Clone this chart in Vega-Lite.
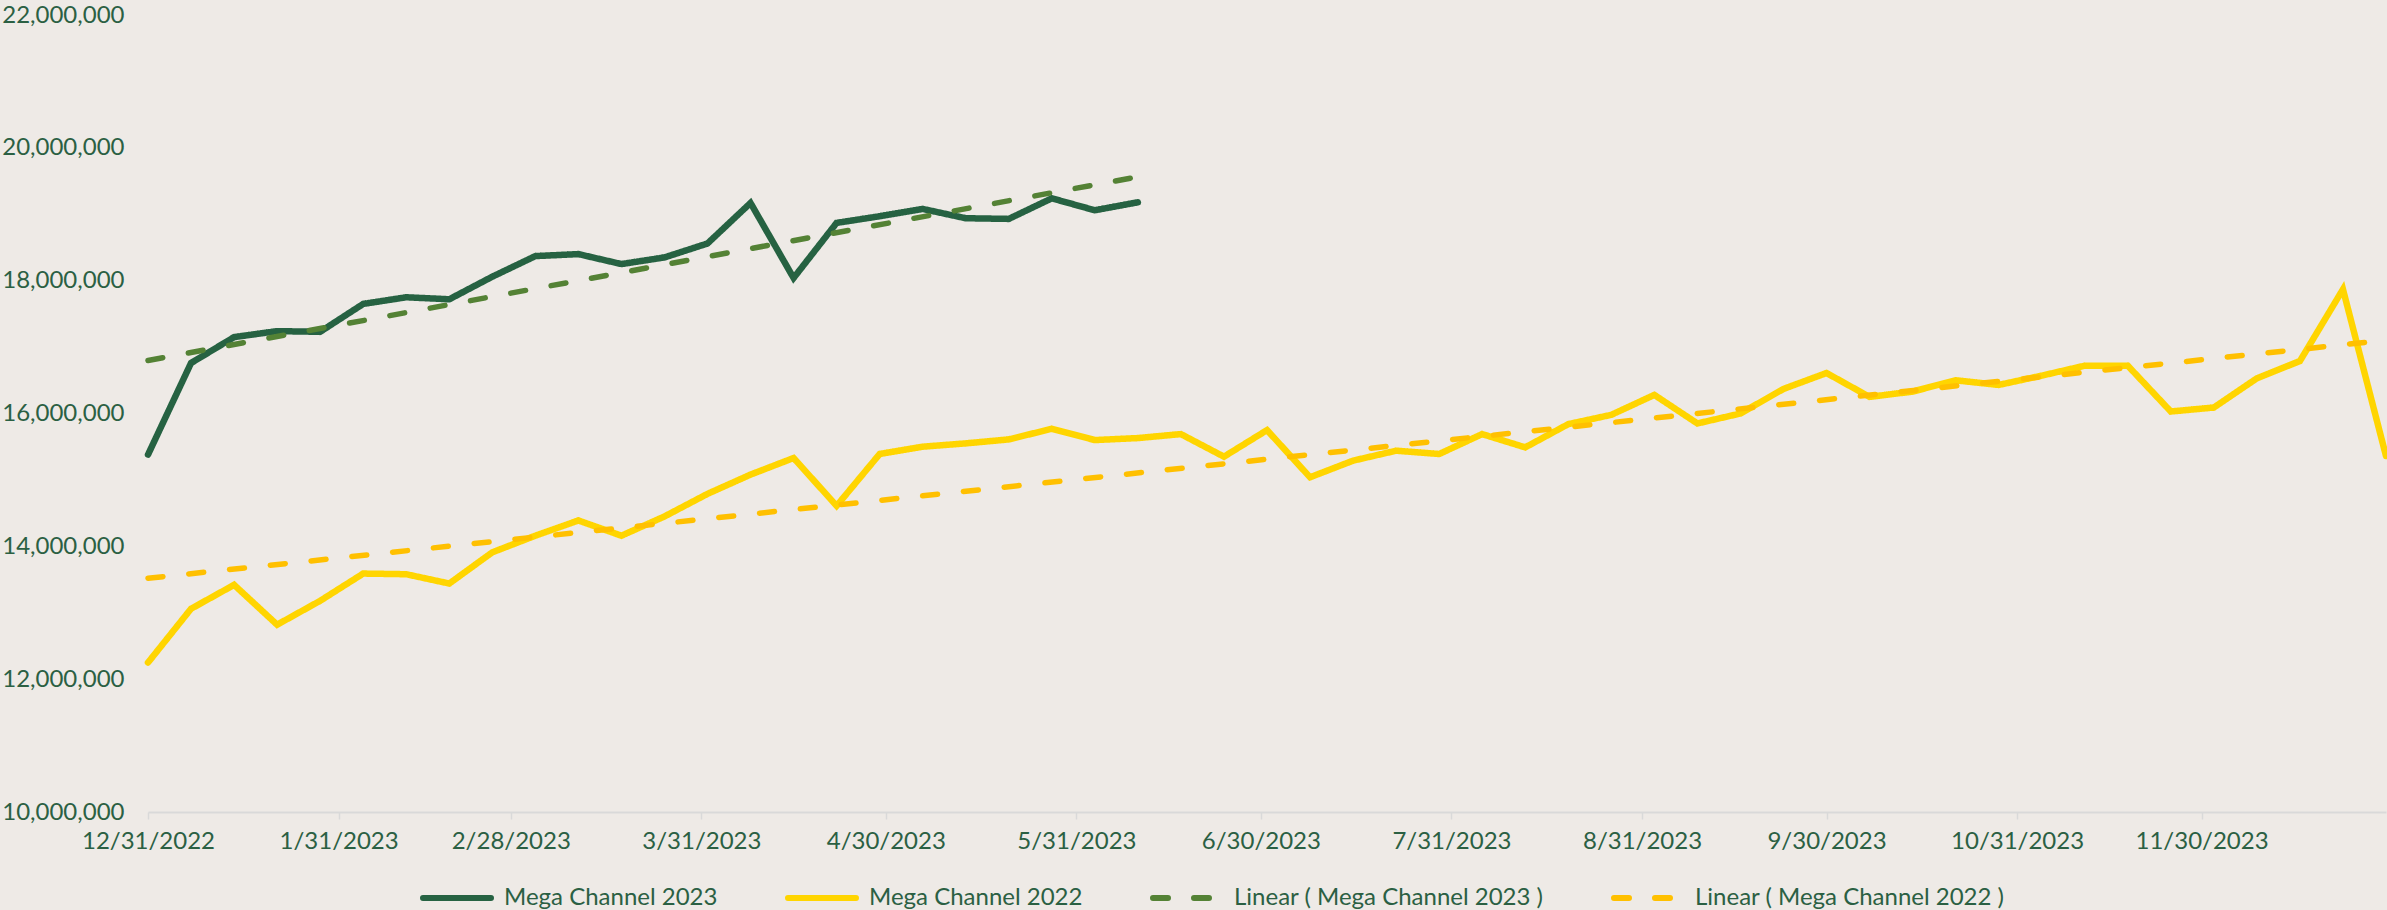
{
  "$schema": "https://vega.github.io/schema/vega-lite/v6.json",
  "autosize": {"type": "none"},
  "width": 2238,
  "height": 797,
  "padding": {"left": 148, "top": 15, "right": 1, "bottom": 98},
  "background": "#EEEAE6",
  "config": {
    "view": {"stroke": null},
    "font": "Lato"
  },
  "data": {
    "format": {"parse": {"date": "date"}},
    "values": [
      {"date": "2022/12/31", "series": "Mega Channel 2023", "value": 15380000},
      {"date": "2023/01/07", "series": "Mega Channel 2023", "value": 16760000},
      {"date": "2023/01/14", "series": "Mega Channel 2023", "value": 17150000},
      {"date": "2023/01/21", "series": "Mega Channel 2023", "value": 17240000},
      {"date": "2023/01/28", "series": "Mega Channel 2023", "value": 17230000},
      {"date": "2023/02/04", "series": "Mega Channel 2023", "value": 17650000},
      {"date": "2023/02/11", "series": "Mega Channel 2023", "value": 17750000},
      {"date": "2023/02/18", "series": "Mega Channel 2023", "value": 17720000},
      {"date": "2023/02/25", "series": "Mega Channel 2023", "value": 18060000},
      {"date": "2023/03/04", "series": "Mega Channel 2023", "value": 18370000},
      {"date": "2023/03/11", "series": "Mega Channel 2023", "value": 18400000},
      {"date": "2023/03/18", "series": "Mega Channel 2023", "value": 18250000},
      {"date": "2023/03/25", "series": "Mega Channel 2023", "value": 18350000},
      {"date": "2023/04/01", "series": "Mega Channel 2023", "value": 18560000},
      {"date": "2023/04/08", "series": "Mega Channel 2023", "value": 19170000},
      {"date": "2023/04/15", "series": "Mega Channel 2023", "value": 18040000},
      {"date": "2023/04/22", "series": "Mega Channel 2023", "value": 18870000},
      {"date": "2023/04/29", "series": "Mega Channel 2023", "value": 18970000},
      {"date": "2023/05/06", "series": "Mega Channel 2023", "value": 19080000},
      {"date": "2023/05/13", "series": "Mega Channel 2023", "value": 18940000},
      {"date": "2023/05/20", "series": "Mega Channel 2023", "value": 18930000},
      {"date": "2023/05/27", "series": "Mega Channel 2023", "value": 19240000},
      {"date": "2023/06/03", "series": "Mega Channel 2023", "value": 19060000},
      {"date": "2023/06/10", "series": "Mega Channel 2023", "value": 19180000},
      {"date": "2022/12/31", "series": "Mega Channel 2022", "value": 12250000},
      {"date": "2023/01/07", "series": "Mega Channel 2022", "value": 13060000},
      {"date": "2023/01/14", "series": "Mega Channel 2022", "value": 13420000},
      {"date": "2023/01/21", "series": "Mega Channel 2022", "value": 12820000},
      {"date": "2023/01/28", "series": "Mega Channel 2022", "value": 13180000},
      {"date": "2023/02/04", "series": "Mega Channel 2022", "value": 13590000},
      {"date": "2023/02/11", "series": "Mega Channel 2022", "value": 13580000},
      {"date": "2023/02/18", "series": "Mega Channel 2022", "value": 13440000},
      {"date": "2023/02/25", "series": "Mega Channel 2022", "value": 13910000},
      {"date": "2023/03/04", "series": "Mega Channel 2022", "value": 14160000},
      {"date": "2023/03/11", "series": "Mega Channel 2022", "value": 14390000},
      {"date": "2023/03/18", "series": "Mega Channel 2022", "value": 14160000},
      {"date": "2023/03/25", "series": "Mega Channel 2022", "value": 14450000},
      {"date": "2023/04/01", "series": "Mega Channel 2022", "value": 14790000},
      {"date": "2023/04/08", "series": "Mega Channel 2022", "value": 15080000},
      {"date": "2023/04/15", "series": "Mega Channel 2022", "value": 15330000},
      {"date": "2023/04/22", "series": "Mega Channel 2022", "value": 14610000},
      {"date": "2023/04/29", "series": "Mega Channel 2022", "value": 15390000},
      {"date": "2023/05/06", "series": "Mega Channel 2022", "value": 15500000},
      {"date": "2023/05/13", "series": "Mega Channel 2022", "value": 15550000},
      {"date": "2023/05/20", "series": "Mega Channel 2022", "value": 15610000},
      {"date": "2023/05/27", "series": "Mega Channel 2022", "value": 15770000},
      {"date": "2023/06/03", "series": "Mega Channel 2022", "value": 15600000},
      {"date": "2023/06/10", "series": "Mega Channel 2022", "value": 15630000},
      {"date": "2023/06/17", "series": "Mega Channel 2022", "value": 15690000},
      {"date": "2023/06/24", "series": "Mega Channel 2022", "value": 15350000},
      {"date": "2023/07/01", "series": "Mega Channel 2022", "value": 15750000},
      {"date": "2023/07/08", "series": "Mega Channel 2022", "value": 15040000},
      {"date": "2023/07/15", "series": "Mega Channel 2022", "value": 15290000},
      {"date": "2023/07/22", "series": "Mega Channel 2022", "value": 15440000},
      {"date": "2023/07/29", "series": "Mega Channel 2022", "value": 15390000},
      {"date": "2023/08/05", "series": "Mega Channel 2022", "value": 15690000},
      {"date": "2023/08/12", "series": "Mega Channel 2022", "value": 15490000},
      {"date": "2023/08/19", "series": "Mega Channel 2022", "value": 15840000},
      {"date": "2023/08/26", "series": "Mega Channel 2022", "value": 15980000},
      {"date": "2023/09/02", "series": "Mega Channel 2022", "value": 16280000},
      {"date": "2023/09/09", "series": "Mega Channel 2022", "value": 15850000},
      {"date": "2023/09/16", "series": "Mega Channel 2022", "value": 16000000},
      {"date": "2023/09/23", "series": "Mega Channel 2022", "value": 16370000},
      {"date": "2023/09/30", "series": "Mega Channel 2022", "value": 16610000},
      {"date": "2023/10/07", "series": "Mega Channel 2022", "value": 16250000},
      {"date": "2023/10/14", "series": "Mega Channel 2022", "value": 16330000},
      {"date": "2023/10/21", "series": "Mega Channel 2022", "value": 16500000},
      {"date": "2023/10/28", "series": "Mega Channel 2022", "value": 16430000},
      {"date": "2023/11/04", "series": "Mega Channel 2022", "value": 16570000},
      {"date": "2023/11/11", "series": "Mega Channel 2022", "value": 16720000},
      {"date": "2023/11/18", "series": "Mega Channel 2022", "value": 16720000},
      {"date": "2023/11/25", "series": "Mega Channel 2022", "value": 16030000},
      {"date": "2023/12/02", "series": "Mega Channel 2022", "value": 16090000},
      {"date": "2023/12/09", "series": "Mega Channel 2022", "value": 16530000},
      {"date": "2023/12/16", "series": "Mega Channel 2022", "value": 16790000},
      {"date": "2023/12/23", "series": "Mega Channel 2022", "value": 17870000},
      {"date": "2023/12/30", "series": "Mega Channel 2022", "value": 15360000}
    ]
  },
  "encoding": {
    "x": {
      "field": "date",
      "type": "temporal",
      "scale": {"domain": [{"year": 2022, "month": 12, "date": 31}, {"year": 2023, "month": 12, "date": 30}]},
      "axis": {
        "title": null,
        "values": [
          {"year": 2022, "month": 12, "date": 31},
          {"year": 2023, "month": 1, "date": 31},
          {"year": 2023, "month": 2, "date": 28},
          {"year": 2023, "month": 3, "date": 31},
          {"year": 2023, "month": 4, "date": 30},
          {"year": 2023, "month": 5, "date": 31},
          {"year": 2023, "month": 6, "date": 30},
          {"year": 2023, "month": 7, "date": 31},
          {"year": 2023, "month": 8, "date": 31},
          {"year": 2023, "month": 9, "date": 30},
          {"year": 2023, "month": 10, "date": 31},
          {"year": 2023, "month": 11, "date": 30}
        ],
        "format": "%-m/%-d/%Y",
        "grid": false,
        "labelFont": "Lato",
        "labelFontSize": 24,
        "labelColor": "#2B6043",
        "labelPadding": 10,
        "labelOverlap": false,
        "labelFlush": false,
        "domainColor": "#D9D9D9",
        "domainWidth": 2,
        "tickColor": "#D9D9D9",
        "tickWidth": 1.5,
        "tickSize": 7
      }
    },
    "y": {
      "field": "value",
      "type": "quantitative",
      "scale": {"domain": [10000000, 22000000], "nice": false, "zero": false},
      "axis": {
        "title": null,
        "values": [10000000, 12000000, 14000000, 16000000, 18000000, 20000000, 22000000],
        "format": ",d",
        "grid": false,
        "domain": false,
        "ticks": false,
        "labelFont": "Lato",
        "labelFontSize": 24,
        "labelColor": "#2B6043",
        "labelPadding": 24
      }
    }
  },
  "layer": [
    {
      "mark": {"type": "line", "strokeWidth": 6.5, "strokeCap": "round"},
      "encoding": {
        "color": {
          "field": "series",
          "type": "nominal",
          "scale": {
            "domain": ["Mega Channel 2023", "Mega Channel 2022", "Linear ( Mega Channel 2023 )", "Linear ( Mega Channel 2022 )"],
            "range": ["#266242", "#FFD500", "#548235", "#FFC000"]
          },
          "legend": {
            "title": null,
            "orient": "none",
            "legendX": 272,
            "legendY": 846,
            "direction": "horizontal",
            "symbolType": "stroke",
            "symbolSize": 4624,
            "symbolStrokeWidth": 6,
            "labelFont": "Lato",
            "labelFontSize": 24,
            "labelColor": "#2B6043",
            "labelOffset": 10,
            "labelLimit": 600,
            "columnPadding": 58,
            "encode": {"symbols": {"update": {"strokeCap": {"value": "round"}}}}
          }
        },
        "strokeDash": {
          "field": "series",
          "type": "nominal",
          "scale": {
            "domain": ["Mega Channel 2023", "Mega Channel 2022", "Linear ( Mega Channel 2023 )", "Linear ( Mega Channel 2022 )"],
            "range": [[1, 0], [1, 0], [15, 26], [15, 26]]
          },
          "legend": null
        }
      }
    },
    {
      "transform": [
        {"filter": "datum.series === 'Mega Channel 2023'"},
        {"regression": "value", "on": "date"}
      ],
      "mark": {"type": "line", "strokeWidth": 5.5, "strokeCap": "round"},
      "encoding": {
        "color": {"datum": "Linear ( Mega Channel 2023 )", "type": "nominal"},
        "strokeDash": {"datum": "Linear ( Mega Channel 2023 )", "type": "nominal"}
      }
    },
    {
      "transform": [
        {"filter": "datum.series === 'Mega Channel 2022'"},
        {"regression": "value", "on": "date"}
      ],
      "mark": {"type": "line", "strokeWidth": 5.5, "strokeCap": "round"},
      "encoding": {
        "color": {"datum": "Linear ( Mega Channel 2022 )", "type": "nominal"},
        "strokeDash": {"datum": "Linear ( Mega Channel 2022 )", "type": "nominal"}
      }
    }
  ]
}
